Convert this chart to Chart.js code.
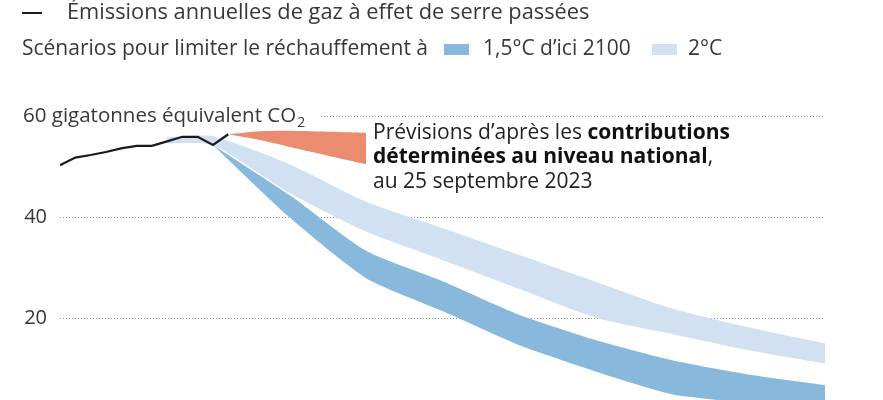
<!DOCTYPE html>
<html lang="fr">
<head>
<meta charset="utf-8">
<script src="https://cdn.jsdelivr.net/npm/chart.js@4.4.0/dist/chart.umd.min.js"></script>
<style>
  html, body { margin: 0; padding: 0; background: #fff; }
  #wrap { width: 883px; height: 400px; position: relative; }
</style>
</head>
<body>
<div id="wrap"><canvas id="emissionsChart" width="883" height="400"></canvas></div>
<script>
// historical emissions (Gt CO2e)
const histYears = [2010, 2011, 2012, 2013, 2014, 2015, 2016, 2017, 2018, 2019, 2020, 2021];
const histValues = [50.3, 51.8, 52.3, 52.9, 53.6, 54.1, 54.1, 55.0, 55.9, 55.9, 54.3, 56.4];

// NDC projections range
const ndcYears = [2021, 2023, 2025, 2030];
const ndcHigh = [56.4, 57.0, 57.1, 56.7];
const ndcLow = [56.4, 55.3, 53.9, 50.5];

// 1.5°C scenario range
const c15Years = [2020, 2025, 2030, 2035, 2040, 2045, 2050, 2055, 2060];
const c15High = [54.3, 44.4, 33.4, 27.4, 20.8, 15.8, 11.8, 9.0, 6.9];
const c15Low = [54.3, 40.0, 28.0, 21.5, 14.8, 9.6, 5.1, 3.3, 1.5];

// 2°C scenario range
const c2Years = [2017, 2020, 2025, 2030, 2035, 2040, 2045, 2050, 2055, 2060];
const c2High = [55.8, 56.0, 50.5, 43.1, 37.9, 32.6, 27.3, 22.0, 18.3, 15.1];
const c2Low = [54.6, 54.3, 44.8, 37.2, 31.6, 25.9, 20.2, 17.0, 13.8, 11.2];

const yTicks = [20, 40, 60];

const FONT = '"Open Sans", sans-serif';
const TEXT = '#383838';
const DARK_BLUE = '#88b9dd';
const LIGHT_BLUE = '#d1e1f1';
const ORANGE = '#ec8c6f';

function pts(xs, ys) {
  return xs.map((x, i) => ({ x: x, y: ys[i] }));
}

function band(data, color, fill) {
  return {
    data: data,
    borderWidth: 0,
    borderColor: color,
    backgroundColor: color,
    pointRadius: 0,
    tension: 0.2,
    fill: fill
  };
}

/*
*   Draws the legend rows, the unit label and the NDC note as plain canvas text
*/
const textPlugin = {
  id: 'texts',
  afterDraw(chart) {
    const ctx = chart.ctx;
    const y = chart.scales.y;
    ctx.save();
    ctx.textBaseline = 'middle';
    ctx.textAlign = 'left';

    // legend row 1
    ctx.strokeStyle = '#1a1a1a';
    ctx.lineWidth = 2;
    ctx.beginPath();
    ctx.moveTo(22, 13);
    ctx.lineTo(42, 13);
    ctx.stroke();
    ctx.fillStyle = TEXT;
    ctx.font = '21.8px ' + FONT;
    ctx.fillText('Émissions annuelles de gaz à effet de serre passées', 67, 13);

    // legend row 2
    ctx.font = '21px ' + FONT;
    ctx.fillText('Scénarios pour limiter le réchauffement à', 22, 49);
    ctx.fillStyle = DARK_BLUE;
    ctx.fillRect(444, 44, 25, 11);
    ctx.fillStyle = TEXT;
    ctx.fillText('1,5°C d’ici 2100', 483, 49);
    ctx.fillStyle = LIGHT_BLUE;
    ctx.fillRect(652, 44, 25, 11);
    ctx.fillStyle = TEXT;
    ctx.fillText('2°C', 688, 49);

    // unit label on the top gridline
    const y60 = y.getPixelForValue(60);
    ctx.font = '20.5px ' + FONT;
    const unit = '60 gigatonnes équivalent CO';
    const w = ctx.measureText(unit).width;
    ctx.fillStyle = '#fff';
    ctx.fillRect(18, y60 - 14, w + 30, 28);
    ctx.fillStyle = TEXT;
    ctx.fillText(unit, 23, y60);
    ctx.font = '14px ' + FONT;
    ctx.fillText('2', 23 + w + 1, y60 + 7);

    // NDC note
    const x0 = 373;
    ctx.fillStyle = '#222';
    ctx.font = '21px ' + FONT;
    const l1 = 'Prévisions d’après les ';
    ctx.fillText(l1, x0, 133);
    const w1 = ctx.measureText(l1).width;
    ctx.font = 'bold 21px ' + FONT;
    ctx.fillStyle = '#111';
    ctx.fillText('contributions', x0 + w1, 133);
    const l2 = 'déterminées au niveau national';
    ctx.fillText(l2, x0, 157);
    const w2 = ctx.measureText(l2).width;
    ctx.font = '21px ' + FONT;
    ctx.fillStyle = '#222';
    ctx.fillText(',', x0 + w2, 157);
    ctx.fillText('au 25 septembre 2023', x0, 182);
    ctx.restore();
  }
};

const ctx = document.getElementById('emissionsChart').getContext('2d');

new Chart(ctx, {
  type: 'line',
  data: {
    datasets: [
      {
        data: pts(histYears, histValues),
        borderColor: '#1a1a1a',
        borderWidth: 2.2,
        pointRadius: 0,
        tension: 0,
        fill: false
      },
      band(pts(ndcYears, ndcHigh), ORANGE, '+1'),
      band(pts(ndcYears, ndcLow), ORANGE, false),
      band(pts(c15Years, c15High), DARK_BLUE, '+1'),
      band(pts(c15Years, c15Low), DARK_BLUE, false),
      band(pts(c2Years, c2High), LIGHT_BLUE, '+1'),
      band(pts(c2Years, c2Low), LIGHT_BLUE, false)
    ]
  },
  options: {
    responsive: false,
    animation: false,
    layout: { padding: { top: 116, right: 58, bottom: 0, left: 0 } },
    plugins: {
      legend: { display: false },
      tooltip: { enabled: false }
    },
    scales: {
      x: {
        type: 'linear',
        min: 2010,
        max: 2060,
        display: false
      },
      y: {
        min: 3.96,
        max: 60,
        z: 1,
        afterFit: (scale) => {
          scale.width = 60;
          scale.paddingTop = 0;
          scale.paddingBottom = 0;
        },
        afterBuildTicks: (scale) => { scale.ticks = yTicks.map(v => ({ value: v })); },
        border: { display: false, dash: [1, 2] },
        grid: { color: '#9a9a9a', lineWidth: 1, drawTicks: false },
        ticks: {
          padding: 13,
          color: TEXT,
          font: { family: FONT, size: 20 },
          callback: (v) => (v === 60 ? '' : v)
        }
      }
    }
  },
  plugins: [textPlugin]
});
</script>
</body>
</html>
